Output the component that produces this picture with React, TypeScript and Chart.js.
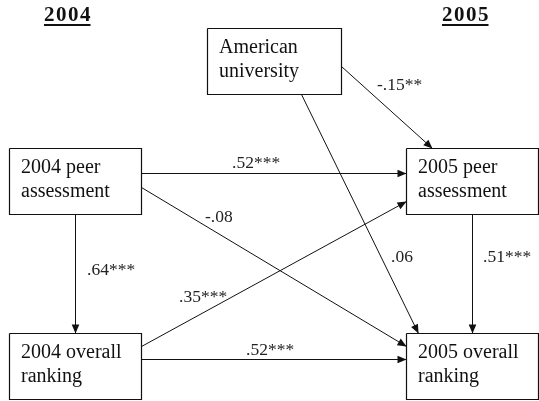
import React, { useEffect, useRef } from "react";
import { Chart, registerables } from "chart.js";

Chart.register(...registerables);

// ---- data ----
const yearHeaders = ["2004", "2005"];
const nodeLabels = [
  ["American", "university"],
  ["2004 peer", "assessment"],
  ["2004 overall", "ranking"],
  ["2005 peer", "assessment"],
  ["2005 overall", "ranking"],
];
// path coefficients (from -> to)
const pathFrom = [1, 1, 1, 2, 2, 0, 0, 3];
const pathTo = [3, 4, 2, 3, 4, 3, 4, 4];
const pathLabels = [".52***", "-.08", ".64***", ".35***", ".52***", "-.15**", ".06", ".51***"];

// ---- layout (data units = pixels of a 539x401 frame) ----
const nodeX = [207.5, 9.5, 9.5, 406.5, 406.5];
const nodeY = [28.5, 148.5, 333.5, 148.5, 333.5];
const nodeW = [134, 132, 132, 132, 132];
const nodeH = [66, 66, 66, 66, 66];
// anchors: side + fraction along that side
const fromSide = ["r", "r", "b", "r", "r", "r", "b", "b"];
const fromFrac = [0.38, 0.59, 0.5, 0.2, 0.39, 0.58, 0.7, 0.5];
const toSide = ["l", "l", "t", "l", "l", "t", "t", "t"];
const toFrac = [0.38, 0.2, 0.5, 0.8, 0.39, 0.2, 0.09, 0.5];
const pathLabelX = [232, 205, 87, 179, 246, 377, 391, 483];
const pathLabelY = [168, 222, 275, 302, 355, 90, 262, 262];
const headerX = [44, 442];
const headerY = [21, 21];

const snap = (v: number) => Math.floor(v) + 0.5;

function anchor(n: number, side: string, f: number) {
  const x = nodeX[n], y = nodeY[n], w = nodeW[n], h = nodeH[n];
  if (side === "l") return { x, y: snap(y + f * h) };
  if (side === "r") return { x: x + w, y: snap(y + f * h) };
  if (side === "t") return { x: snap(x + f * w), y };
  return { x: snap(x + f * w), y: y + h };
}

export default function App() {
  const ref = useRef<HTMLCanvasElement>(null);
  useEffect(() => {
    document.body.style.margin = "0";
    const datasets: any[] = [];
    nodeLabels.forEach((_, i) => {
      const x = nodeX[i], y = nodeY[i], w = nodeW[i], h = nodeH[i];
      datasets.push({
        data: [
          { x, y },
          { x: x + w, y },
          { x: x + w, y: y + h },
          { x, y: y + h },
          { x, y },
        ],
        showLine: true,
        borderColor: "#111",
        borderWidth: 1.2,
        pointRadius: 0,
        fill: false,
        tension: 0,
        kind: "box",
      });
    });
    pathFrom.forEach((f, i) => {
      const a = anchor(f, fromSide[i], fromFrac[i]);
      const b = anchor(pathTo[i], toSide[i], toFrac[i]);
      datasets.push({
        data: [a, b],
        showLine: true,
        borderColor: "#111",
        borderWidth: 1,
        pointRadius: 0,
        fill: false,
        tension: 0,
        kind: "edge",
      });
    });

    const textPlugin = {
      id: "diagramText",
      afterDatasetsDraw(chart: any) {
        const ctx = chart.ctx;
        const xs = chart.scales.x, ys = chart.scales.y;
        const px = (v: number) => xs.getPixelForValue(v);
        const py = (v: number) => ys.getPixelForValue(v);
        ctx.save();
        // arrowheads
        chart.data.datasets.forEach((ds: any) => {
          if (ds.kind !== "edge") return;
          const a = ds.data[0], b = ds.data[1];
          const x1 = px(a.x), y1 = py(a.y), x2 = px(b.x), y2 = py(b.y);
          const ang = Math.atan2(y2 - y1, x2 - x1);
          const L = 9, W = 3.8;
          ctx.beginPath();
          ctx.moveTo(x2, y2);
          ctx.lineTo(x2 - L * Math.cos(ang) + W * Math.sin(ang), y2 - L * Math.sin(ang) - W * Math.cos(ang));
          ctx.lineTo(x2 - L * Math.cos(ang) - W * Math.sin(ang), y2 - L * Math.sin(ang) + W * Math.cos(ang));
          ctx.closePath();
          ctx.fillStyle = "#111";
          ctx.fill();
        });
        // node text
        ctx.fillStyle = "#111";
        ctx.textBaseline = "alphabetic";
        ctx.textAlign = "left";
        ctx.font = '20px "Liberation Serif"';
        nodeLabels.forEach((lines, i) => {
          lines.forEach((t, j) => {
            ctx.fillText(t, px(nodeX[i] + 11.5), py(nodeY[i] + 24.5 + j * 24));
          });
        });
        // path labels
        ctx.fillStyle = "#222";
        ctx.font = '17.5px "Liberation Serif"';
        pathLabels.forEach((t, i) => {
          ctx.fillText(t, px(pathLabelX[i]), py(pathLabelY[i]));
        });
        // headers
        ctx.fillStyle = "#111";
        ctx.font = 'bold 21px "Liberation Serif"';
        (ctx as any).letterSpacing = "1.5px";
        yearHeaders.forEach((t, i) => {
          const x = px(headerX[i]), y = py(headerY[i]);
          ctx.fillText(t, x, y);
          const w = ctx.measureText(t).width - 1.5;
          ctx.fillRect(x, y + 3, w, 2);
        });
        ctx.restore();
      },
    };

    const chart = new Chart(ref.current!, {
      type: "scatter",
      data: { datasets },
      options: {
        animation: false,
        responsive: false,
        devicePixelRatio: 1,
        layout: { padding: 0 },
        plugins: { legend: { display: false }, tooltip: { enabled: false } },
        scales: {
          x: { type: "linear", min: 0, max: 539, display: false },
          y: { type: "linear", min: 0, max: 401, reverse: true, display: false },
        },
      },
      plugins: [textPlugin],
    });
    return () => chart.destroy();
  }, []);
  return (
    <div style={{ width: 539, height: 401, background: "#fff" }}>
      <canvas ref={ref} width={539} height={401} />
    </div>
  );
}
